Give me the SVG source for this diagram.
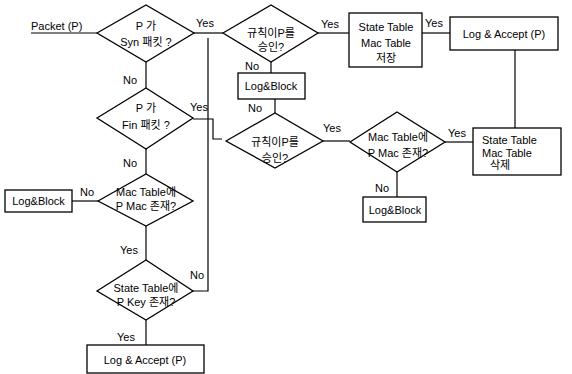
<svg xmlns="http://www.w3.org/2000/svg" width="572" height="374" viewBox="0 0 572 374">
<style>
.s{fill:none;stroke:#000;stroke-width:1.2}
.b{fill:#fff;stroke:#000;stroke-width:1.3}
.t{font-family:"Liberation Sans","Noto Sans CJK KR",sans-serif;font-size:11px;fill:#000}
.m{text-anchor:middle}
</style>
<rect width="572" height="374" fill="#fff"/>
<g id="connectors">
<path class="s" d="M31,33H97"/>
<path class="s" d="M194,33H223"/>
<path class="s" d="M208,38V291H193"/>
<path class="s" d="M318,33H349"/>
<path class="s" d="M422,33H450"/>
<path class="s" d="M515,50V128"/>
<path class="s" d="M271,62V73"/>
<path class="s" d="M275,99V113"/>
<path class="s" d="M323,141H350"/>
<path class="s" d="M445,142H473"/>
<path class="s" d="M397,172V197"/>
<path class="s" d="M146,62V88"/>
<path class="s" d="M193,119H213V139H222"/>
<path class="s" d="M146,149V174"/>
<path class="s" d="M98,201H72"/>
<path class="s" d="M146,226V260"/>
<path class="s" d="M146,320V345"/>
<text class="t" x="31" y="30">Packet (P)</text>
<text class="t" x="196" y="27">Yes</text>
<text class="t" x="321" y="28">Yes</text>
<text class="t" x="425" y="27">Yes</text>
<text class="t" x="245" y="70">No</text>
<text class="t" x="248" y="112">No</text>
<text class="t" x="323" y="132">Yes</text>
<text class="t" x="448" y="137">Yes</text>
<text class="t" x="375" y="192">No</text>
<text class="t" x="123" y="84">No</text>
<text class="t" x="190" y="111">Yes</text>
<text class="t" x="123" y="167">No</text>
<text class="t" x="80" y="196">No</text>
<text class="t" x="120" y="254">Yes</text>
<text class="t" x="190" y="279">No</text>
<text class="t" x="117" y="341">Yes</text>
</g>
<g id="syn">
<polygon class="b" points="97,33 146,5 194,33 146,62"/>
<text class="t m" x="146" y="30">P 가</text>
<text class="t m" x="146" y="46">Syn 패킷 ?</text>
</g>
<g id="rule1">
<polygon class="b" points="223,33 271,5 318,33 271,62"/>
<text class="t m" x="271" y="37">규칙이P를</text>
<text class="t m" x="271" y="51">승인?</text>
</g>
<g id="store">
<rect class="b" x="349" y="13" width="73" height="54"/>
<text class="t m" x="386" y="31">State Table</text>
<text class="t m" x="386" y="47">Mac Table</text>
<text class="t m" x="386" y="62">저장</text>
</g>
<g id="accept1">
<rect class="b" x="450" y="17" width="108" height="33"/>
<text class="t m" x="504" y="38">Log &amp; Accept (P)</text>
</g>
<g id="block1">
<rect class="b" x="238" y="73" width="67" height="26"/>
<text class="t m" x="271" y="90">Log&amp;Block</text>
</g>
<g id="rule2">
<polygon class="b" points="226,141 275,113 323,141 275,168"/>
<text class="t m" x="275" y="146">규칙이P를</text>
<text class="t m" x="275" y="162">승인?</text>
</g>
<g id="mac2">
<polygon class="b" points="350,142 397,112 445,142 397,172"/>
<text class="t m" x="398" y="141">Mac Table에</text>
<text class="t m" x="398" y="157">P Mac 존재?</text>
</g>
<g id="delete">
<rect class="b" x="473" y="128" width="88" height="47"/>
<text class="t" x="482" y="144">State Table</text>
<text class="t" x="482" y="157">Mac Table</text>
<text class="t" x="490" y="169">삭제</text>
</g>
<g id="block2">
<rect class="b" x="363" y="197" width="63" height="25"/>
<text class="t m" x="395" y="214">Log&amp;Block</text>
</g>
<g id="fin">
<polygon class="b" points="97,118 146,88 193,118 146,149"/>
<text class="t m" x="146" y="112">P 가</text>
<text class="t m" x="146" y="129">Fin 패킷 ?</text>
</g>
<g id="mac1">
<polygon class="b" points="98,201 146,174 193,201 146,226"/>
<text class="t m" x="146" y="196">Mac Table에</text>
<text class="t m" x="146" y="210">P Mac 존재?</text>
</g>
<g id="block3">
<rect class="b" x="5" y="190" width="67" height="22"/>
<text class="t m" x="38.5" y="205">Log&amp;Block</text>
</g>
<g id="state">
<polygon class="b" points="97,291 146,260 193,291 146,320"/>
<text class="t m" x="146" y="292">State Table에</text>
<text class="t m" x="146" y="306">P Key 존재?</text>
</g>
<g id="accept2">
<rect class="b" x="87" y="345" width="117" height="28"/>
<text class="t m" x="145" y="364">Log &amp; Accept (P)</text>
</g>
</svg>
